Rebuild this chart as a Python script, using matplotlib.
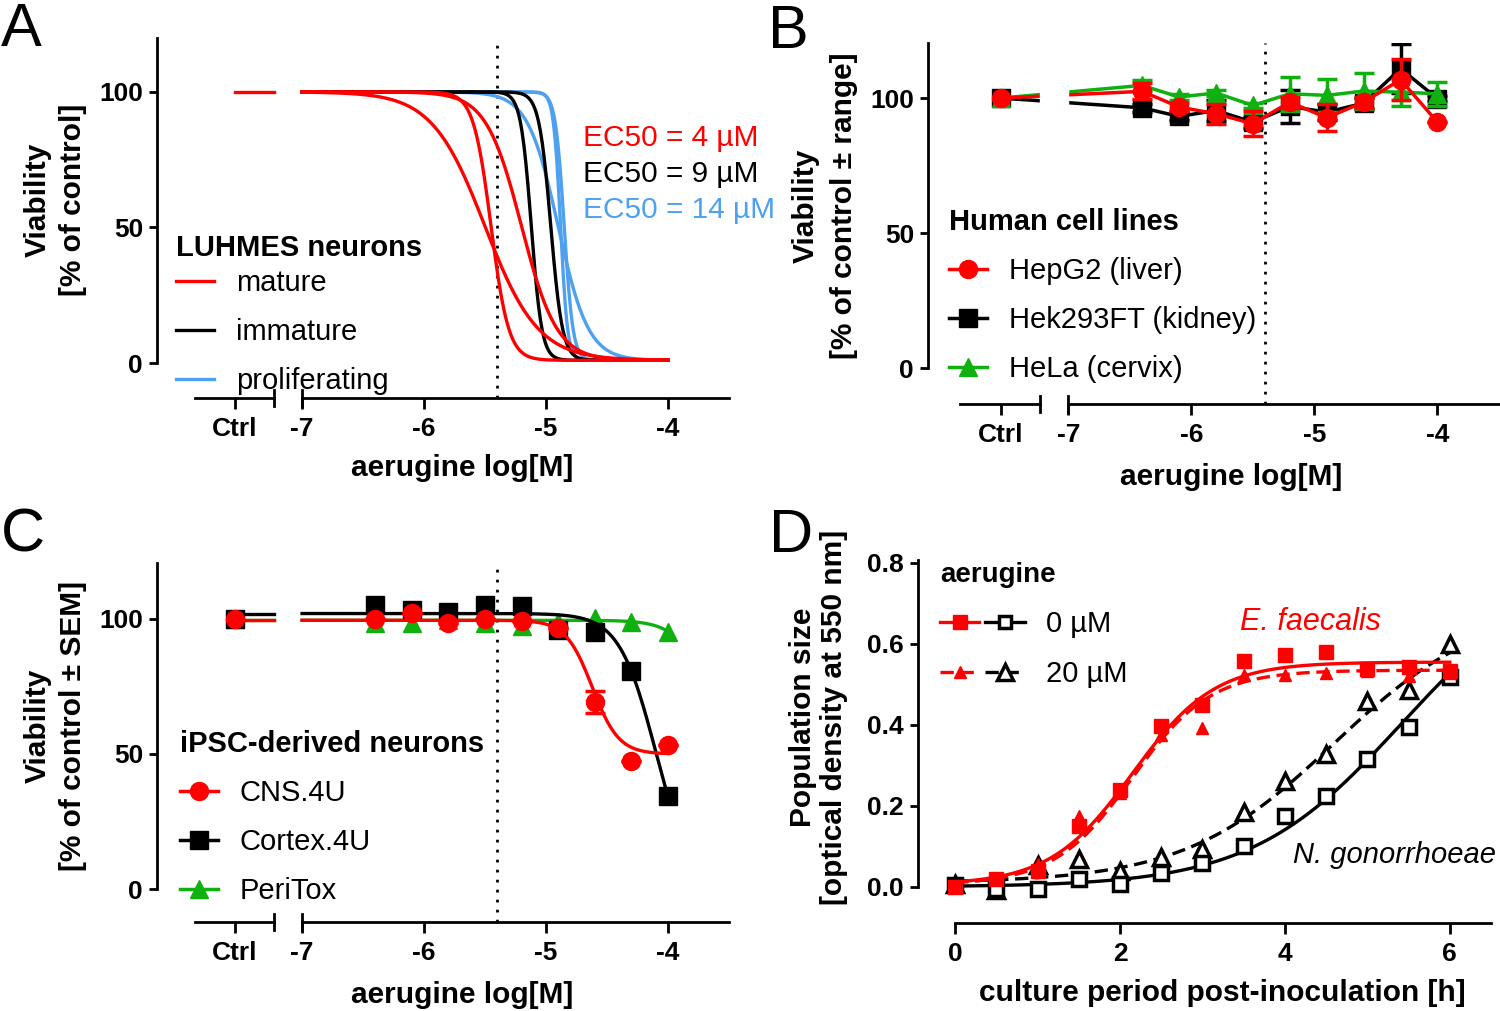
import numpy as np
import matplotlib.pyplot as plt
from matplotlib.lines import Line2D
from matplotlib.legend_handler import HandlerTuple

plt.rcParams['font.family'] = ['Liberation Sans', 'DejaVu Sans']

RED = '#ff0000'
BLUE = '#4ea1f0'
GREEN = '#10b010'
W, H = 1500, 1011
FS = 21

# ---- panel A: LUHMES fits (log EC50, Hill slope) ----
a_red_ec50 = [-5.50, -5.45, -5.20]
a_red_hill = [2.0, 6.0, 3.0]
a_black_ec50 = [-5.12, -4.96]
a_black_hill = [10.0, 9.0]
a_blue_ec50 = [-4.88, -4.85, -4.90]
a_blue_hill = [15.0, 12.0, 3.5]
a_top, a_bottom = 100, 1
ec50_labels = ['EC50 = 4 µM', 'EC50 = 9 µM', 'EC50 = 14 µM']

# ---- panel B: human cell lines ----
conc = [-6.4, -6.1, -5.8, -5.5, -5.2, -4.9, -4.6, -4.3, -4.0]
hepg2 = [102.5, 96.7, 94.2, 90.5, 98.5, 92.7, 98.5, 106.8, 91.1]
hepg2_err = [3.0, 1.5, 3.7, 4.7, 2.0, 5.0, 2.0, 7.5, 0.0]
hek = [96.4, 93.2, 95.4, 91.1, 96.9, 94.8, 98.1, 110.9, 99.8]
hek_err = [1.5, 1.5, 4.0, 2.0, 6.0, 3.0, 2.0, 9.0, 1.0]
hela = [104.7, 100.4, 101.9, 97.3, 101.6, 101.0, 102.6, 102.2, 101.6]
hela_err = [2.0, 1.0, 1.0, 1.0, 6.2, 6.2, 6.7, 5.0, 4.4]
ctrl_b = 100

# ---- panel C: iPSC-derived neurons ----
cns = [100.0, 102.3, 98.4, 100.0, 99.4, 96.6, 69.1, 47.3, 53.2]
cns_err = [0, 0, 0, 0, 0, 0, 4.1, 0, 0]
cortex = [105.2, 103.3, 102.7, 105.2, 104.6, 95.9, 95.3, 80.8, 34.6]
peritox = [98.4, 98.4, 99.5, 98.4, 97.4, 99.0, 100.2, 99.0, 95.0]
ctrl_c = 100
# fit params: top, bottom, logEC50, hill
fit_cns = [99.5, 50.0, -4.62, 4.0]
fit_cortex = [102.0, 0.0, -4.10, 2.9]
fit_peritox = [99.5, 0.0, -3.56, 3.1]

# ---- panel D: bacterial growth ----
hours = [0, 0.5, 1, 1.5, 2, 2.5, 3, 3.5, 4, 4.5, 5, 5.5, 6]
ef_0 = [0.0, 0.02, 0.04, 0.15, 0.24, 0.397, 0.45, 0.558, 0.573, 0.579, 0.538, 0.544, 0.532]
ef_20 = [0.0, 0.02, 0.057, 0.176, 0.233, 0.376, 0.393, 0.524, 0.524, 0.528, 0.532, 0.52, 0.528]
ng_0 = [0.004, -0.004, -0.004, 0.02, 0.008, 0.034, 0.059, 0.1, 0.176, 0.225, 0.315, 0.394, 0.517]
ng_20 = [0.008, -0.008, 0.053, 0.07, 0.04, 0.074, 0.094, 0.184, 0.262, 0.327, 0.46, 0.487, 0.6]
# logistic params: top, bottom, t50, rate
fit_ef_0 = [0.555, 0.005, 2.15, 2.0]
fit_ef_20 = [0.535, 0.005, 2.15, 2.1]
fit_ng_0 = [0.8, 0.0, 5.4, 1.1]
fit_ng_20 = [0.7, 0.01, 4.6, 1.1]

CTRL = -7.55
SEG = (-7.88, -7.23)
DOT_X = -5.4


def hill(x, top, bottom, ec, h):
    return bottom + (top - bottom) / (1 + 10 ** (h * (x - ec)))


def logistic(t, top, bottom, t50, k):
    return bottom + (top - bottom) / (1 + np.exp(-k * (t - t50)))


def make_ax(l, t, r, b):
    return fig.add_axes([l / W, 1 - b / H, (r - l) / W, (b - t) / H])


def px(x, y):
    return x / W, 1 - y / H


def style_dose_axis(ax, xlim, ylim):
    ax.set_xlim(*xlim)
    ax.set_ylim(*ylim)
    for s in ['top', 'right']:
        ax.spines[s].set_visible(False)
    for s in ['left', 'bottom']:
        ax.spines[s].set_linewidth(2)
    ax.spines['left'].set_bounds(0, ylim[1])
    ax.spines['bottom'].set_bounds(-7, -3.5)
    ax.set_yticks([0, 50, 100])
    ax.set_xticks([CTRL, -7, -6, -5, -4])
    ax.set_xticklabels(['Ctrl', '-7', '-6', '-5', '-4'])
    ax.tick_params(axis='both', width=2, labelsize=19, direction='out')
    ax.tick_params(axis='x', length=8, pad=6)
    ax.tick_params(axis='y', length=6, pad=4)
    for lab in ax.get_xticklabels() + ax.get_yticklabels():
        lab.set_fontweight('bold')
    yb = ylim[0]
    d = (ylim[1] - ylim[0]) * 0.022
    ax.plot(SEG, [yb, yb], color='k', lw=2, clip_on=False, zorder=4)
    for xb in [SEG[1], -7]:
        ax.plot([xb, xb], [yb - d, yb + d], color='k', lw=2, clip_on=False, zorder=4)
    ax.axvline(DOT_X, color='k', lw=2, ls=(0, (1, 2.6)), zorder=1)


def add_legend(ax, handles, labels, title, x, y, hl=1.3, title_fs=FS, ls=0.72, **kw):
    leg = ax.legend(handles, labels, title=title,
                    title_fontproperties={'weight': 'bold', 'size': title_fs}, fontsize=FS,
                    frameon=False, alignment='left', loc='upper left',
                    bbox_to_anchor=px(x, y), bbox_transform=fig.transFigure,
                    borderpad=0, borderaxespad=0, handlelength=hl, handletextpad=0.75,
                    labelspacing=ls, **kw)
    return leg


fig = plt.figure(figsize=(15, 10.11), dpi=100)

# ================= A =================
axA = make_ax(157, 38, 730, 398)
style_dose_axis(axA, (-8.19, -3.49), (-12.9, 119.9))
xs = np.linspace(-7, -4, 400)
for ec, h in zip(a_blue_ec50, a_blue_hill):
    axA.plot(xs, hill(xs, a_top, a_bottom, ec, h), color=BLUE, lw=2.4)
for ec, h in zip(a_black_ec50, a_black_hill):
    axA.plot(xs, hill(xs, a_top, a_bottom, ec, h), color='k', lw=2.4)
for ec, h in zip(a_red_ec50, a_red_hill):
    axA.plot(xs, hill(xs, a_top, a_bottom, ec, h), color=RED, lw=2.4)
axA.plot([CTRL, SEG[1]], [a_top, a_top], color=RED, lw=2.4)
for lab, col, yy in zip(ec50_labels, [RED, 'k', BLUE], [138, 174, 210]):
    fig.text(*px(583, yy), lab, color=col, fontsize=21.5, va='center', ha='left')
hA = [Line2D([], [], color=c, lw=2.4) for c in [RED, 'k', BLUE]]
legA = add_legend(axA, hA, ['mature', 'immature', 'proliferating'], 'LUHMES neurons', 176, 234)
legA._legend_box.sep = 5

# ================= B =================
axB = make_ax(928, 43, 1499, 404)
style_dose_axis(axB, (-8.14, -3.5), (-13.3, 120.4))
axB.axvspan(SEG[1], -7, color='white', zorder=2.5)
series_b = [(hek, hek_err, 'k', 's'),
            (hela, hela_err, GREEN, '^'),
            (hepg2, hepg2_err, RED, 'o')]
for vals, err, col, mk in series_b:
    axB.errorbar(conc, vals, yerr=err, fmt='none', ecolor=col, elinewidth=2.5,
                 capsize=7, capthick=2.5, zorder=2)
    axB.plot([CTRL] + conc, [ctrl_b] + vals, color=col, marker=mk, ms=13, lw=2.5, zorder=2)
hB = [Line2D([], [], color=RED, marker='o', ms=13, lw=2.5),
      Line2D([], [], color='k', marker='s', ms=13, lw=2.5),
      Line2D([], [], color=GREEN, marker='^', ms=13, lw=2.5)]
add_legend(axB, hB, ['HepG2 (liver)', 'Hek293FT (kidney)', 'HeLa (cervix)'],
           'Human cell lines', 949, 208)

# ================= C =================
axC = make_ax(157, 563, 730, 922)
style_dose_axis(axC, (-8.19, -3.49), (-12.2, 120.7))
for p, vals, col, mk in [(fit_peritox, peritox, GREEN, '^'),
                         (fit_cortex, cortex, 'k', 's'),
                         (fit_cns, cns, RED, 'o')]:
    axC.plot(xs, hill(xs, *p), color=col, lw=2.4)
    axC.plot([CTRL, SEG[1]], [hill(CTRL, *p)] * 2, color=col, lw=2.4)
    axC.plot([CTRL] + conc, [ctrl_c] + vals, ls='none', marker=mk, ms=13, color=col)
axC.errorbar(conc, cns, yerr=cns_err, fmt='none', ecolor=RED, elinewidth=2.5,
             capsize=7, capthick=2.5)
hC = [Line2D([], [], color=RED, marker='o', ms=13, lw=2.5),
      Line2D([], [], color='k', marker='s', ms=13, lw=2.5),
      Line2D([], [], color=GREEN, marker='^', ms=13, lw=2.5)]
add_legend(axC, hC, ['CNS.4U', 'Cortex.4U', 'PeriTox'], 'iPSC-derived neurons', 180, 730)

# ================= D =================
axD = make_ax(918, 560, 1491, 923)
axD.set_xlim(-0.45, 6.5)
axD.set_ylim(-0.089, 0.807)
for s in ['top', 'right']:
    axD.spines[s].set_visible(False)
for s in ['left', 'bottom']:
    axD.spines[s].set_linewidth(2)
axD.spines['left'].set_bounds(0, 0.807)
axD.spines['bottom'].set_bounds(0, 6.5)
axD.set_xticks([0, 2, 4, 6])
axD.set_yticks([0, 0.2, 0.4, 0.6, 0.8])
axD.set_yticklabels(['0.0', '0.2', '0.4', '0.6', '0.8'])
axD.tick_params(axis='both', width=2, labelsize=19)
axD.tick_params(axis='x', length=8, pad=6)
axD.tick_params(axis='y', length=6, pad=4)
for lab in axD.get_xticklabels() + axD.get_yticklabels():
    lab.set_fontweight('bold')

ts = np.linspace(0, 6, 300)
dash = (0, (4, 2))
axD.plot(ts, logistic(ts, *fit_ng_20), color='k', lw=2.4, ls=dash)
axD.plot(ts, logistic(ts, *fit_ng_0), color='k', lw=2.4)
axD.plot(hours, ng_20, ls='none', marker='^', ms=11, mfc='white', mec='k', mew=2.5)
axD.plot(hours, ng_0, ls='none', marker='s', ms=10, mfc='white', mec='k', mew=2.5)
axD.plot(ts, logistic(ts, *fit_ef_20), color=RED, lw=2.4, ls=dash)
axD.plot(ts, logistic(ts, *fit_ef_0), color=RED, lw=2.4)
axD.plot(hours, ef_20, ls='none', marker='^', ms=9, color=RED)
axD.plot(hours, ef_0, ls='none', marker='s', ms=10, color=RED)

fig.text(*px(1240, 622), 'E. faecalis', color=RED, style='italic', fontsize=22, va='center')
fig.text(*px(1496, 855), 'N. gonorrhoeae', color='k', style='italic', fontsize=21,
         va='center', ha='right')

hD0 = (Line2D([], [], color=RED, marker='s', ms=10, lw=2.4),
       Line2D([], [], color='k', marker='s', ms=9, mfc='white', mew=2.5, lw=2.4))
hD20 = (Line2D([], [], color=RED, marker='^', ms=9, lw=2.4, ls=dash),
        Line2D([], [], color='k', marker='^', ms=11, mfc='white', mew=2.5, lw=2.4, ls=dash))
add_legend(axD, [hD0, hD20], ['0 µM', '20 µM'], 'aerugine', 940, 562, hl=2.9,
           title_fs=20, ls=0.75,
           handler_map={tuple: HandlerTuple(ndivide=None, pad=0.2)})

# ---- axis labels (one text per line) ----
ylab_kw = dict(rotation=90, ha='center', va='center', fontsize=21.5, fontweight='bold')
for l1, l2, x1, x2, yc in [('Viability', '[% of control]', 38, 73, 200),
                           ('Viability', '[% of control ± range]', 806, 844, 206),
                           ('Viability', '[% of control ± SEM]', 38, 73, 726),
                           ('Population size', '[optical density at 550 nm]', 803, 834, 717)]:
    fig.text(*px(x1, yc), l1, **ylab_kw)
    fig.text(*px(x2, yc), l2, **ylab_kw)

xlab_kw = dict(ha='center', va='center', fontsize=21.5, fontweight='bold')
fig.text(*px(462, 468), 'aerugine log[M]', **xlab_kw)
fig.text(*px(1231, 477), 'aerugine log[M]', **xlab_kw)
fig.text(*px(462, 995), 'aerugine log[M]', **xlab_kw)
fig.text(*px(1222, 993), 'culture period post-inoculation [h]', **xlab_kw)

# ---- panel letters ----
for lab, x, y in [('A', 1, 2), ('B', 768, 4), ('C', 1, 508), ('D', 769, 508)]:
    fig.text(*px(x, y), lab, fontsize=44, va='top', ha='left')

fig.savefig('out.png', dpi=100)
